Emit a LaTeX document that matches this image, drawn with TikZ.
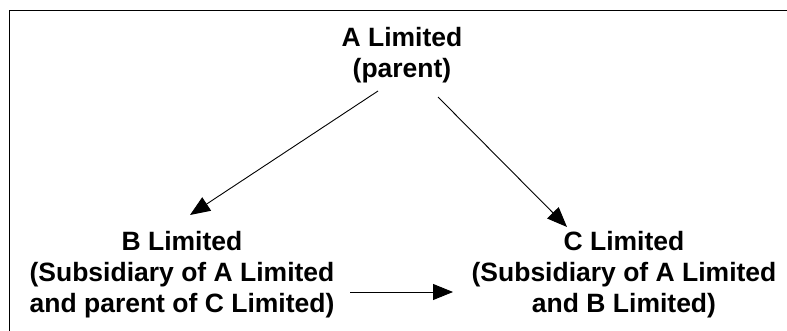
\documentclass[tikz,border=0pt]{standalone}
\usepackage{fontspec}
\setmainfont{Liberation Sans}
\usetikzlibrary{arrows.meta}
\begin{document}
\begin{tikzpicture}[x=1pt,y=-1pt,
  lbl/.style={align=center,inner sep=0pt,font=\bfseries\fontsize{26.5}{31}\selectfont},
  arr/.style={line width=0.9pt,-{Triangle[length=20pt,width=16pt]}},
  frame/.style={line width=0.9pt}]
\useasboundingbox (0,0) rectangle (787,331);
\draw[frame] (787,10) -- (9,10) -- (9,331);
\node[lbl] (A) at (402,55) {A Limited\\(parent)};
\node[lbl] (B) at (182,275) {B Limited\\(Subsidiary of A Limited\\and parent of C Limited)};
\node[lbl] (C) at (624,275) {C Limited\\(Subsidiary of A Limited\\and B Limited)};
\draw[arr] ([shift={(-24,36)}]A.center) -- ([shift={(8,-60)}]B.center);
\draw[arr] ([shift={(36,42)}]A.center) -- ([shift={(-57,-48)}]C.center);
\draw[arr] ([shift={(168,17)}]B.center) -- ([shift={(-171,17)}]C.center);
\end{tikzpicture}
\end{document}
